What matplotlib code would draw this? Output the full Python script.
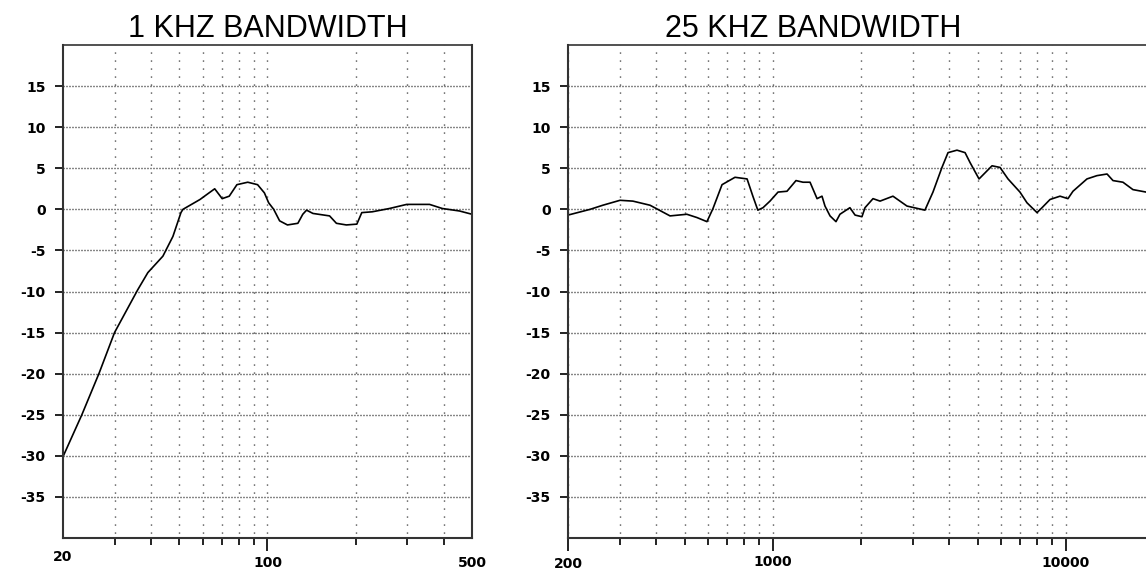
import matplotlib
matplotlib.use("Agg")
import matplotlib.pyplot as plt
from matplotlib.transforms import blended_transform_factory, ScaledTranslation

# 1 kHz bandwidth response (Hz, dB)
left_freq = [20, 23.2, 26.6, 30, 36, 39, 43.9, 47.5, 50.6, 51.4, 55.6, 58.8, 62, 66,
             70, 74, 78.6, 85.6, 92.5, 97.6, 100.9, 105, 110, 117, 127, 132, 136, 143,
             163, 172, 186, 202, 210, 228, 261, 299, 358, 396, 453, 500]
left_db = [-30.1, -25, -19.9, -15, -9.8, -7.7, -5.7, -3.3, -0.4, 0, 0.7, 1.2, 1.8, 2.5,
           1.3, 1.6, 3.0, 3.3, 3.0, 2.0, 0.8, 0, -1.4, -1.9, -1.7, -0.6, -0.1, -0.5,
           -0.8, -1.7, -1.9, -1.8, -0.4, -0.3, 0.1, 0.6, 0.6, 0.1, -0.2, -0.6]

# 25 kHz bandwidth response (Hz, dB)
right_freq = [200, 238, 263, 301, 333, 381, 446, 509, 551, 596, 625, 671, 743, 817, 855,
              889, 926, 978, 1042, 1118, 1200, 1268, 1340, 1416, 1472, 1507, 1568, 1643,
              1695, 1833, 1909, 2015, 2064, 2198, 2323, 2571, 2870, 3305, 3521, 3779,
              3963, 4252, 4531, 4711, 5057, 5600, 5963, 6350, 6975, 7370, 7976, 8296,
              8836, 9556, 10170, 10580, 11810, 12770, 13830, 14490, 15670, 16950,
              18800, 20000]
right_db = [-0.7, 0.0, 0.5, 1.1, 1.0, 0.5, -0.8, -0.6, -1.0, -1.5, 0.1, 3.0, 3.9, 3.7,
            1.6, -0.1, 0.2, 1.0, 2.1, 2.2, 3.5, 3.3, 3.3, 1.3, 1.6, 0.4, -0.8, -1.5,
            -0.6, 0.2, -0.7, -0.9, 0.2, 1.3, 1.0, 1.6, 0.4, -0.1, 2.1, 5.1, 6.9, 7.2,
            6.9, 5.7, 3.7, 5.3, 5.1, 3.7, 2.1, 0.8, -0.4, 0.2, 1.2, 1.6, 1.3, 2.2, 3.7,
            4.1, 4.3, 3.5, 3.3, 2.4, 2.1, 2.0]

titles = ["1 KHZ BANDWIDTH", "25 KHZ BANDWIDTH"]
y_ticks = list(range(-35, 20, 5))

left_labels = [20, 100, 500]
left_major = [100]
left_minor = [30, 40, 50, 60, 70, 80, 90, 200, 300, 400]

right_labels = [200, 1000, 10000]
right_major = [200, 1000, 10000]
right_minor = [300, 400, 500, 600, 700, 800, 900,
               2000, 3000, 4000, 5000, 6000, 7000, 8000, 9000]

DPI = 100
fig = plt.figure(figsize=(11.46, 5.71), dpi=DPI)
W, H = 1146, 571

ax1 = fig.add_axes([63 / W, (H - 538) / H, (472 - 63) / W, 493 / H])
ax2 = fig.add_axes([568 / W, (H - 538) / H, (1154 - 568) / W, 493 / H])

tick_font = dict(family="DejaVu Sans", weight="bold", size=10)
ink = "#111111"


def setup(ax, freq, db, xlim, major, minor, labels, label_dy):
    ax.plot(freq, db, color="black", lw=1.2)
    ax.set_xscale("log")
    ax.set_xlim(*xlim)
    ax.set_ylim(-40, 20)

    ax.set_xticks(major)
    ax.set_xticks(minor, minor=True)
    ax.set_xticklabels([])
    ax.set_xticklabels([], minor=True)
    ax.tick_params(axis="x", which="major", length=9, width=1.3, color=ink)
    ax.tick_params(axis="x", which="minor", length=5, width=1.3, color=ink)

    ax.set_yticks(y_ticks)
    ax.set_yticklabels([str(v) for v in y_ticks], fontdict=tick_font)
    ax.tick_params(axis="y", length=6, width=1.3, pad=6.5, color=ink)

    # dotted grid: 1px dots, 8px apart vertically, 3px apart horizontally
    ax.xaxis.grid(True, which="both", color=ink, lw=1.0, linestyle=(2.2, (0.72, 5.04)))
    ax.yaxis.grid(True, which="major", color=ink, lw=1.0, linestyle=(0, (0.72, 1.44)))

    for s in ax.spines.values():
        s.set_color("#333333")
        s.set_linewidth(1.5)
    ax.spines["top"].set_linewidth(1.2)

    trans = blended_transform_factory(ax.transData, ax.transAxes)
    for lab, dy in zip(labels, label_dy):
        t = trans + ScaledTranslation(0, -dy / DPI, fig.dpi_scale_trans)
        ax.text(lab, 0, str(lab), transform=t, ha="center", va="center",
                fontdict=tick_font, clip_on=False)


setup(ax1, left_freq, left_db, (20, 500), left_major, left_minor, left_labels, [19, 25, 25])
setup(ax2, right_freq, right_db, (200, 20000), right_major, right_minor, right_labels, [26, 24, 25])

title_font = dict(family="Liberation Sans", size=22)
fig.text(268 / W, (H - 37) / H, titles[0], ha="center", va="baseline", **title_font)
fig.text(813 / W, (H - 37) / H, titles[1], ha="center", va="baseline", **title_font)

fig.savefig("out.png", dpi=DPI)
